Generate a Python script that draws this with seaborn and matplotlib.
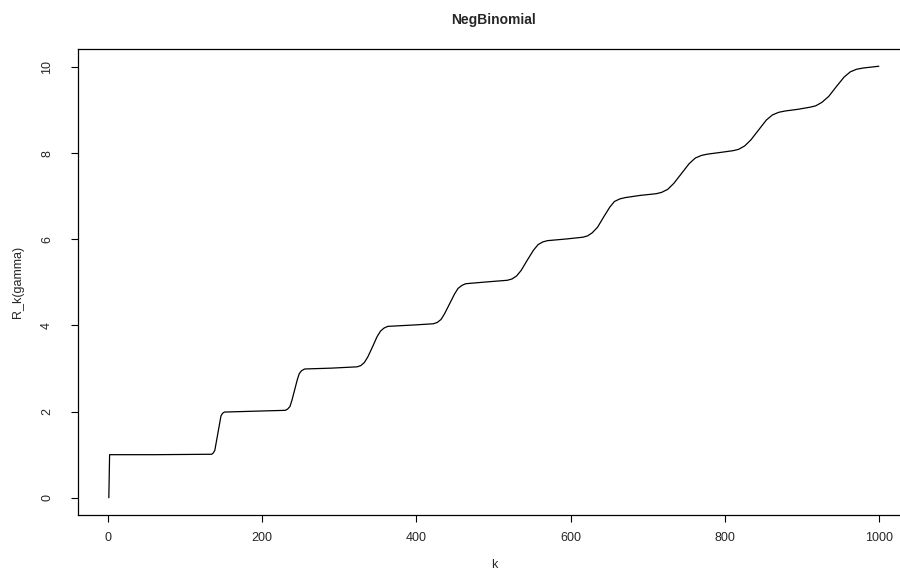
import pandas as pd
import seaborn as sns
import matplotlib
matplotlib.use('Agg')
import matplotlib.pyplot as plt

# values
k = [1, 2, 60, 134.5, 136.5, 138.5, 140, 142.5, 145, 146.5, 148.5, 151,
     190, 230, 233, 236, 238.5, 242, 245.5, 248, 251, 255,
     290, 323, 328, 332.5, 337, 343, 349, 353.5, 358, 363,
     395, 422, 427, 432, 436.5, 443, 449.5, 454, 459, 464,
     490, 518, 524, 530, 536, 544, 552, 558, 564, 570,
     595, 616, 622, 628, 635, 643, 651, 657, 664, 671,
     690, 711, 718, 726, 734, 744, 754, 762, 770, 778,
     795, 811, 818, 826, 834, 844, 854, 862, 870, 878,
     895, 911, 918, 926, 935, 945, 955, 963, 971, 980, 990, 1000]
r_k = [0.0, 1.0, 1.0, 1.01, 1.04, 1.1, 1.25, 1.5, 1.75, 1.9, 1.96, 1.99,
       2.01, 2.03, 2.06, 2.12, 2.26, 2.5, 2.74, 2.88, 2.95, 2.99,
       3.01, 3.04, 3.07, 3.14, 3.27, 3.5, 3.74, 3.87, 3.94, 3.98,
       4.01, 4.04, 4.07, 4.14, 4.27, 4.5, 4.73, 4.86, 4.93, 4.97,
       5.01, 5.05, 5.08, 5.15, 5.28, 5.52, 5.75, 5.88, 5.94, 5.97,
       6.01, 6.05, 6.08, 6.15, 6.28, 6.52, 6.75, 6.88, 6.94, 6.97,
       7.02, 7.06, 7.09, 7.16, 7.3, 7.53, 7.76, 7.89, 7.95, 7.98,
       8.02, 8.06, 8.09, 8.17, 8.31, 8.54, 8.77, 8.89, 8.95, 8.98,
       9.02, 9.07, 9.1, 9.18, 9.32, 9.55, 9.77, 9.89, 9.95, 9.98, 10.0, 10.02]

x_ticks = [0, 200, 400, 600, 800, 1000]
y_ticks = [0, 2, 4, 6, 8, 10]

df = pd.DataFrame({'k': k, 'R_k': r_k})

sns.set_style('white')
plt.rcParams['font.family'] = ['Liberation Sans', 'DejaVu Sans']

fig = plt.figure(figsize=(9, 5.73), dpi=100)
ax = fig.add_axes([0.0867, 0.1012, 0.924, 0.8133])
sns.lineplot(data=df, x='k', y='R_k', color='black', linewidth=0.9, ax=ax)

ax.set_xlim(-38.96, 1039.96)
ax.set_ylim(-0.4008, 10.4208)
ax.set_xticks(x_ticks)
ax.set_yticks(y_ticks)
ax.tick_params(axis='both', direction='out', length=5, width=0.8, color='black',
               labelsize=9, bottom=True, left=True)
ax.tick_params(axis='x', pad=7)
ax.tick_params(axis='y', pad=13)
plt.setp(ax.get_yticklabels(), rotation=90, va='center')
for s in ax.spines.values():
    s.set_visible(True)
    s.set_color('black')
    s.set_linewidth(0.9)

ax.set_xlabel('k', fontsize=9, labelpad=11)
ax.set_ylabel('R_k(gamma)', fontsize=9, labelpad=12)
ax.set_title('NegBinomial', fontsize=10, fontweight='bold', pad=18)

fig.savefig('out.png', dpi=100)
